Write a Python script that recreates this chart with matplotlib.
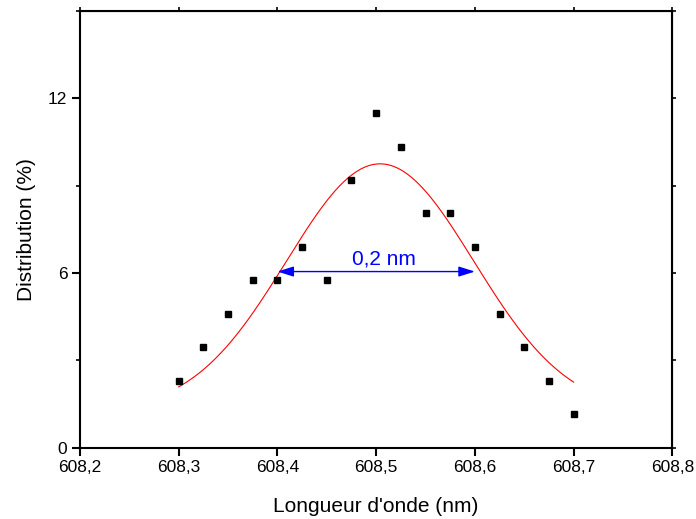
import numpy as np
import matplotlib
matplotlib.use('Agg')
import matplotlib.pyplot as plt
from matplotlib.ticker import FixedLocator, FuncFormatter

plt.rcParams['font.family'] = ['Liberation Sans', 'DejaVu Sans']

# measured distribution (%)
wavelength = [608.300, 608.325, 608.350, 608.375, 608.400, 608.425, 608.450, 608.475, 608.500,
              608.525, 608.550, 608.575, 608.600, 608.625, 608.650, 608.675, 608.700]
distribution = [2.30, 3.45, 4.60, 5.75, 5.75, 6.90, 5.75, 9.20, 11.49,
                10.34, 8.05, 8.05, 6.90, 4.60, 3.45, 2.30, 1.15]

# gauss fit parameters
fit_y0 = 1.24
fit_xc = 608.504
fit_w = 0.19
fit_h = 8.51
fit_range = [608.30, 608.70]

# FWHM annotation
fwhm_start = 608.40
fwhm_end = 608.60
fwhm_level = 6.05
fwhm_text = '0,2 nm'

x_ticks = [608.2, 608.3, 608.4, 608.5, 608.6, 608.7, 608.8]
y_ticks = [0, 6, 12]
y_minor = [3, 9, 15]


def gauss(x):
    return fit_y0 + fit_h * np.exp(-2 * ((x - fit_xc) / fit_w) ** 2)


def comma(v, pos):
    return ('%g' % round(v, 3)).replace('.', ',')


fig = plt.figure(figsize=(6.96, 5.19), dpi=100)
ax = fig.add_axes([0.1149, 0.1374, 0.8511, 0.8414])

xf = np.linspace(fit_range[0], fit_range[1], 300)
ax.plot(xf, gauss(xf), color='red', lw=0.8, zorder=2)
ax.plot(wavelength, distribution, 's', color='black', ms=4.6, mec='black', zorder=3)

ax.annotate('', xy=(fwhm_start, fwhm_level), xytext=(fwhm_end, fwhm_level),
            arrowprops=dict(arrowstyle='<|-|>,head_length=0.7,head_width=0.22', color='blue', lw=1.0,
                            mutation_scale=14, shrinkA=0, shrinkB=0))
ax.text((fwhm_start + fwhm_end) / 2 + 0.008, fwhm_level + 0.42, fwhm_text, color='blue',
        fontsize=15, ha='center', va='center')

ax.set_xlim(608.2, 608.8)
ax.set_ylim(0, 15)
ax.xaxis.set_major_locator(FixedLocator(x_ticks))
ax.xaxis.set_major_formatter(FuncFormatter(comma))
ax.yaxis.set_major_locator(FixedLocator(y_ticks))
ax.yaxis.set_minor_locator(FixedLocator(y_minor))

for s in ax.spines.values():
    s.set_linewidth(1.5)
ax.tick_params(which='major', direction='out', length=6, width=1.5, labelsize=12.5, pad=3)
ax.tick_params(which='minor', direction='out', length=3, width=1.2)

top = ax.secondary_xaxis('top')
top.xaxis.set_major_locator(FixedLocator(x_ticks))
top.tick_params(direction='out', length=3, width=1.2, labeltop=False)
right = ax.secondary_yaxis('right')
right.yaxis.set_major_locator(FixedLocator(y_ticks + y_minor))
right.tick_params(direction='out', length=3, width=1.2, labelright=False)

ax.set_xlabel("Longueur d'onde (nm)", fontsize=15, labelpad=16)
ax.set_ylabel('Distribution (%)', fontsize=15, labelpad=9)

fig.savefig('out.png', dpi=100)
